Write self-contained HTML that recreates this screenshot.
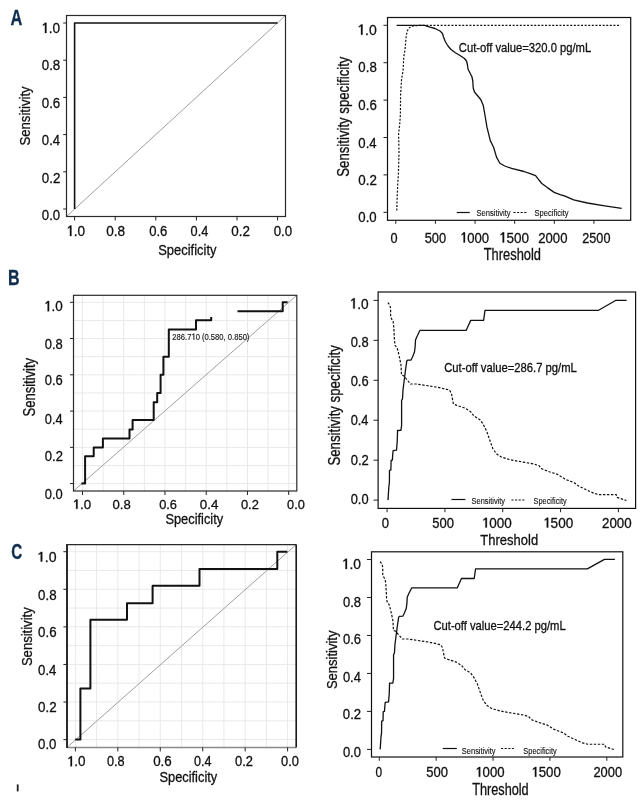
<!DOCTYPE html><html><head><meta charset="utf-8"><style>html,body{margin:0;padding:0;background:#fff;}svg{display:block;will-change:transform;}text{font-family:"Liberation Sans",sans-serif;}</style></head><body>
<svg width="642" height="801" viewBox="0 0 642 801">
<rect width="642" height="801" fill="#fff"/>
<g transform="translate(10.59,24.80) scale(0.7228,1)" fill="#0f2d4d" stroke="#0f2d4d" stroke-width="0.3"><text font-size="22.71" font-weight="bold">A</text></g>
<g transform="translate(8.06,285.00) scale(0.7073,1)" fill="#0f2d4d" stroke="#0f2d4d" stroke-width="0.3"><text font-size="22.71" font-weight="bold">B</text></g>
<g transform="translate(11.29,559.20) scale(0.6851,1)" fill="#0f2d4d" stroke="#0f2d4d" stroke-width="0.3"><text font-size="22.29" font-weight="bold">C</text></g>
<rect x="16.8" y="784.4" width="1.8" height="7" fill="#222"/>
<line x1="66.5" y1="216.5" x2="285.5" y2="15.5" stroke="#a0a0a0" stroke-width="1" />
<rect x="66.5" y="15.5" width="219.0" height="201.0" fill="none" stroke="#2a2a2a" stroke-width="1.2"/>
<line x1="63.2" y1="209.00" x2="66.5" y2="209.00" stroke="#222" stroke-width="1" />
<line x1="277.60" y1="216.5" x2="277.60" y2="220.5" stroke="#222" stroke-width="1" />
<line x1="63.2" y1="171.80" x2="66.5" y2="171.80" stroke="#222" stroke-width="1" />
<line x1="237.00" y1="216.5" x2="237.00" y2="220.5" stroke="#222" stroke-width="1" />
<line x1="63.2" y1="134.60" x2="66.5" y2="134.60" stroke="#222" stroke-width="1" />
<line x1="196.40" y1="216.5" x2="196.40" y2="220.5" stroke="#222" stroke-width="1" />
<line x1="63.2" y1="97.40" x2="66.5" y2="97.40" stroke="#222" stroke-width="1" />
<line x1="155.80" y1="216.5" x2="155.80" y2="220.5" stroke="#222" stroke-width="1" />
<line x1="63.2" y1="60.20" x2="66.5" y2="60.20" stroke="#222" stroke-width="1" />
<line x1="115.20" y1="216.5" x2="115.20" y2="220.5" stroke="#222" stroke-width="1" />
<line x1="63.2" y1="23.00" x2="66.5" y2="23.00" stroke="#222" stroke-width="1" />
<line x1="74.60" y1="216.5" x2="74.60" y2="220.5" stroke="#222" stroke-width="1" />
<g transform="translate(41.26,33.00) scale(0.9318,1)" fill="#111" stroke="#111" stroke-width="0.3"><path d="M3.95,-10.25 L5.56,-10.25 L5.56,0.00 L3.95,0.00 L3.95,-8.42 L1.76,-7.32 L1.76,-8.42 L3.66,-9.74Z"/><text x="8.14" font-size="14.64">.0</text></g>
<g transform="translate(41.77,70.40) scale(0.8880,1)" fill="#111" stroke="#111" stroke-width="0.3"><text font-size="15.00" font-weight="normal">0.8</text></g>
<g transform="translate(41.77,107.90) scale(0.8880,1)" fill="#111" stroke="#111" stroke-width="0.3"><text font-size="15.00" font-weight="normal">0.6</text></g>
<g transform="translate(41.87,145.30) scale(0.8933,1)" fill="#111" stroke="#111" stroke-width="0.3"><text font-size="14.71" font-weight="normal">0.4</text></g>
<g transform="translate(41.87,182.80) scale(0.9070,1)" fill="#111" stroke="#111" stroke-width="0.3"><text font-size="14.71" font-weight="normal">0.2</text></g>
<g transform="translate(41.87,220.10) scale(0.8923,1)" fill="#111" stroke="#111" stroke-width="0.3"><text font-size="14.79" font-weight="normal">0.0</text></g>
<g transform="translate(66.27,236.00) scale(0.9156,1)" fill="#111" stroke="#111" stroke-width="0.3"><path d="M4.01,-10.40 L5.65,-10.40 L5.65,0.00 L4.01,0.00 L4.01,-8.54 L1.78,-7.43 L1.78,-8.54 L3.71,-9.88Z"/><text x="8.26" font-size="14.86">.0</text></g>
<g transform="translate(106.16,236.00) scale(0.9146,1)" fill="#111" stroke="#111" stroke-width="0.3"><text font-size="14.86" font-weight="normal">0.8</text></g>
<g transform="translate(149.18,236.00) scale(0.8786,1)" fill="#111" stroke="#111" stroke-width="0.3"><text font-size="14.86" font-weight="normal">0.6</text></g>
<g transform="translate(190.59,236.00) scale(0.8566,1)" fill="#111" stroke="#111" stroke-width="0.3"><text font-size="14.86" font-weight="normal">0.4</text></g>
<g transform="translate(231.26,236.00) scale(0.9061,1)" fill="#111" stroke="#111" stroke-width="0.3"><text font-size="14.86" font-weight="normal">0.2</text></g>
<g transform="translate(273.67,236.00) scale(0.8957,1)" fill="#111" stroke="#111" stroke-width="0.3"><text font-size="14.86" font-weight="normal">0.0</text></g>
<polyline points="74.60,209.00 74.60,23.00 277.60,23.00" fill="none" stroke="#111" stroke-width="1.6" stroke-linejoin="round" />
<g transform="translate(30.30,145.59) rotate(-90) scale(0.8462,1)" fill="#111" stroke="#111" stroke-width="0.3"><text font-size="15.57" font-weight="normal">Sensitivity</text></g>
<g transform="translate(158.22,255.40) scale(0.8802,1)" fill="#111" stroke="#111" stroke-width="0.3"><text font-size="14.71" font-weight="normal">Specificity</text></g>
<rect x="387.5" y="17.5" width="243.20000000000005" height="202.8" fill="none" stroke="#111" stroke-width="1.2"/>
<line x1="383.5" y1="212.30" x2="387.5" y2="212.30" stroke="#222" stroke-width="1" />
<line x1="383.5" y1="174.90" x2="387.5" y2="174.90" stroke="#222" stroke-width="1" />
<line x1="383.5" y1="137.50" x2="387.5" y2="137.50" stroke="#222" stroke-width="1" />
<line x1="383.5" y1="100.10" x2="387.5" y2="100.10" stroke="#222" stroke-width="1" />
<line x1="383.5" y1="62.70" x2="387.5" y2="62.70" stroke="#222" stroke-width="1" />
<line x1="383.5" y1="25.30" x2="387.5" y2="25.30" stroke="#222" stroke-width="1" />
<line x1="395.80" y1="220.3" x2="395.80" y2="223.8" stroke="#222" stroke-width="1" />
<line x1="435.43" y1="220.3" x2="435.43" y2="223.8" stroke="#222" stroke-width="1" />
<line x1="475.05" y1="220.3" x2="475.05" y2="223.8" stroke="#222" stroke-width="1" />
<line x1="514.67" y1="220.3" x2="514.67" y2="223.8" stroke="#222" stroke-width="1" />
<line x1="554.30" y1="220.3" x2="554.30" y2="223.8" stroke="#222" stroke-width="1" />
<line x1="593.92" y1="220.3" x2="593.92" y2="223.8" stroke="#222" stroke-width="1" />
<g transform="translate(357.21,34.75) scale(0.9501,1)" fill="#111" stroke="#111" stroke-width="0.3"><path d="M3.99,-10.35 L5.62,-10.35 L5.62,0.00 L3.99,0.00 L3.99,-8.50 L1.77,-7.39 L1.77,-8.50 L3.70,-9.83Z"/><text x="8.22" font-size="14.79">.0</text></g>
<g transform="translate(358.37,72.40) scale(0.9001,1)" fill="#111" stroke="#111" stroke-width="0.3"><text font-size="14.71" font-weight="normal">0.8</text></g>
<g transform="translate(358.37,110.30) scale(0.9001,1)" fill="#111" stroke="#111" stroke-width="0.3"><text font-size="14.71" font-weight="normal">0.6</text></g>
<g transform="translate(358.37,147.60) scale(0.8933,1)" fill="#111" stroke="#111" stroke-width="0.3"><text font-size="14.71" font-weight="normal">0.4</text></g>
<g transform="translate(358.37,185.00) scale(0.9070,1)" fill="#111" stroke="#111" stroke-width="0.3"><text font-size="14.71" font-weight="normal">0.2</text></g>
<g transform="translate(358.37,222.30) scale(0.8967,1)" fill="#111" stroke="#111" stroke-width="0.3"><text font-size="14.71" font-weight="normal">0.0</text></g>
<g transform="translate(390.49,242.60) scale(0.8637,1)" fill="#111" stroke="#111" stroke-width="0.3"><text font-size="14.71" font-weight="normal">0</text></g>
<g transform="translate(424.68,242.60) scale(0.8762,1)" fill="#111" stroke="#111" stroke-width="0.3"><text font-size="14.71" font-weight="normal">500</text></g>
<g transform="translate(460.03,242.60) scale(0.8897,1)" fill="#111" stroke="#111" stroke-width="0.3"><path d="M3.97,-10.30 L5.59,-10.30 L5.59,0.00 L3.97,0.00 L3.97,-8.46 L1.77,-7.36 L1.77,-8.46 L3.68,-9.78Z"/><text x="8.18" font-size="14.71">000</text></g>
<g transform="translate(498.98,242.60) scale(0.9193,1)" fill="#111" stroke="#111" stroke-width="0.3"><path d="M3.97,-10.30 L5.59,-10.30 L5.59,0.00 L3.97,0.00 L3.97,-8.46 L1.77,-7.36 L1.77,-8.46 L3.68,-9.78Z"/><text x="8.18" font-size="14.71">500</text></g>
<g transform="translate(538.24,242.60) scale(0.8924,1)" fill="#111" stroke="#111" stroke-width="0.3"><text font-size="14.71" font-weight="normal">2000</text></g>
<g transform="translate(582.27,242.60) scale(0.8606,1)" fill="#111" stroke="#111" stroke-width="0.3"><text font-size="14.71" font-weight="normal">2500</text></g>
<g transform="translate(483.74,259.80) scale(0.8278,1)" fill="#111" stroke="#111" stroke-width="0.3"><text font-size="15.57" font-weight="normal">Threshold</text></g>
<g transform="translate(348.60,176.69) rotate(-90) scale(0.8316,1)" fill="#111" stroke="#111" stroke-width="0.3"><text font-size="15.86" font-weight="normal">Sensitivity specificity</text></g>
<g transform="translate(458.84,52.40) scale(0.8835,1)" fill="#111" stroke="#111" stroke-width="0.3"><text font-size="12.71" font-weight="normal">Cut-off value=320.0 pg/mL</text></g>
<polyline points="396.60,25.30 424.60,25.30 430.00,27.20 435.00,28.50 440.00,31.00 442.50,33.50 443.50,37.00 445.50,42.00 448.00,46.00 451.00,49.50 455.00,52.50 460.00,55.50 464.50,58.50 466.50,61.00 467.50,65.00 468.00,69.00 470.00,73.00 472.00,77.00 472.80,81.00 473.20,88.00 474.50,92.00 477.00,95.00 479.50,98.00 481.00,100.00 483.20,105.20 485.30,117.00 486.90,126.90 490.30,140.60 493.70,147.50 496.50,157.10 499.90,163.30 504.70,166.00 511.60,168.40 524.00,171.50 529.50,173.30 535.60,175.60 537.70,178.40 541.80,183.50 547.30,187.60 554.20,192.40 560.10,194.60 565.00,196.20 573.70,199.90 587.40,203.00 604.80,205.90 621.70,208.40" fill="none" stroke="#111" stroke-width="1.3" stroke-linejoin="round" />
<polyline points="396.80,210.60 397.00,200.60 397.70,184.50 398.40,173.80 399.00,152.40 398.60,133.70 399.70,124.40 400.40,115.00 400.60,95.00 401.50,80.00 403.10,70.00 403.80,56.30 405.00,50.00 406.30,35.00 408.10,28.80 411.30,26.30 416.30,25.60 422.50,25.30 620.80,25.30" fill="none" stroke="#111" stroke-width="1.2" stroke-linejoin="round" stroke-dasharray="2 1.6"/>
<line x1="456.7" y1="212.5" x2="469.7" y2="212.5" stroke="#111" stroke-width="1.2" />
<g transform="translate(476.56,216.40) scale(0.8146,1)" fill="#111" stroke="#111" stroke-width="0.12"><text font-size="9.29" font-weight="normal">Sensitivity</text></g>
<line x1="513.4" y1="212.5" x2="526.5" y2="212.5" stroke="#111" stroke-width="1.1" stroke-dasharray="2.2 1.4"/>
<g transform="translate(534.56,216.40) scale(0.8146,1)" fill="#111" stroke="#111" stroke-width="0.12"><text font-size="9.29" font-weight="normal">Specificity</text></g>
<line x1="288.70" y1="295.3" x2="288.70" y2="491.0" stroke="#e9e9e9" stroke-width="1" />
<line x1="73.5" y1="483.60" x2="296.8" y2="483.60" stroke="#e9e9e9" stroke-width="1" />
<line x1="268.08" y1="295.3" x2="268.08" y2="491.0" stroke="#e9e9e9" stroke-width="1" />
<line x1="73.5" y1="465.47" x2="296.8" y2="465.47" stroke="#e9e9e9" stroke-width="1" />
<line x1="247.46" y1="295.3" x2="247.46" y2="491.0" stroke="#e9e9e9" stroke-width="1" />
<line x1="73.5" y1="447.34" x2="296.8" y2="447.34" stroke="#e9e9e9" stroke-width="1" />
<line x1="226.84" y1="295.3" x2="226.84" y2="491.0" stroke="#e9e9e9" stroke-width="1" />
<line x1="73.5" y1="429.21" x2="296.8" y2="429.21" stroke="#e9e9e9" stroke-width="1" />
<line x1="206.22" y1="295.3" x2="206.22" y2="491.0" stroke="#e9e9e9" stroke-width="1" />
<line x1="73.5" y1="411.08" x2="296.8" y2="411.08" stroke="#e9e9e9" stroke-width="1" />
<line x1="185.60" y1="295.3" x2="185.60" y2="491.0" stroke="#e9e9e9" stroke-width="1" />
<line x1="73.5" y1="392.95" x2="296.8" y2="392.95" stroke="#e9e9e9" stroke-width="1" />
<line x1="164.98" y1="295.3" x2="164.98" y2="491.0" stroke="#e9e9e9" stroke-width="1" />
<line x1="73.5" y1="374.82" x2="296.8" y2="374.82" stroke="#e9e9e9" stroke-width="1" />
<line x1="144.36" y1="295.3" x2="144.36" y2="491.0" stroke="#e9e9e9" stroke-width="1" />
<line x1="73.5" y1="356.69" x2="296.8" y2="356.69" stroke="#e9e9e9" stroke-width="1" />
<line x1="123.74" y1="295.3" x2="123.74" y2="491.0" stroke="#e9e9e9" stroke-width="1" />
<line x1="73.5" y1="338.56" x2="296.8" y2="338.56" stroke="#e9e9e9" stroke-width="1" />
<line x1="103.12" y1="295.3" x2="103.12" y2="491.0" stroke="#e9e9e9" stroke-width="1" />
<line x1="73.5" y1="320.43" x2="296.8" y2="320.43" stroke="#e9e9e9" stroke-width="1" />
<line x1="82.50" y1="295.3" x2="82.50" y2="491.0" stroke="#e9e9e9" stroke-width="1" />
<line x1="73.5" y1="302.30" x2="296.8" y2="302.30" stroke="#e9e9e9" stroke-width="1" />
<line x1="73.5" y1="491.0" x2="296.8" y2="295.3" stroke="#a0a0a0" stroke-width="1" />
<rect x="73.5" y="295.3" width="223.3" height="195.7" fill="none" stroke="#2a2a2a" stroke-width="1.2"/>
<line x1="70.0" y1="483.60" x2="73.5" y2="483.60" stroke="#222" stroke-width="1" />
<line x1="288.70" y1="491.0" x2="288.70" y2="495.0" stroke="#222" stroke-width="1" />
<line x1="70.0" y1="447.34" x2="73.5" y2="447.34" stroke="#222" stroke-width="1" />
<line x1="247.46" y1="491.0" x2="247.46" y2="495.0" stroke="#222" stroke-width="1" />
<line x1="70.0" y1="411.08" x2="73.5" y2="411.08" stroke="#222" stroke-width="1" />
<line x1="206.22" y1="491.0" x2="206.22" y2="495.0" stroke="#222" stroke-width="1" />
<line x1="70.0" y1="374.82" x2="73.5" y2="374.82" stroke="#222" stroke-width="1" />
<line x1="164.98" y1="491.0" x2="164.98" y2="495.0" stroke="#222" stroke-width="1" />
<line x1="70.0" y1="338.56" x2="73.5" y2="338.56" stroke="#222" stroke-width="1" />
<line x1="123.74" y1="491.0" x2="123.74" y2="495.0" stroke="#222" stroke-width="1" />
<line x1="70.0" y1="302.30" x2="73.5" y2="302.30" stroke="#222" stroke-width="1" />
<line x1="82.50" y1="491.0" x2="82.50" y2="495.0" stroke="#222" stroke-width="1" />
<g transform="translate(43.98,311.30) scale(0.9162,1)" fill="#111" stroke="#111" stroke-width="0.3"><path d="M3.97,-10.30 L5.59,-10.30 L5.59,0.00 L3.97,0.00 L3.97,-8.46 L1.77,-7.36 L1.77,-8.46 L3.68,-9.79Z"/><text x="8.18" font-size="14.71">.0</text></g>
<g transform="translate(44.78,348.50) scale(0.8709,1)" fill="#111" stroke="#111" stroke-width="0.3"><text font-size="14.86" font-weight="normal">0.8</text></g>
<g transform="translate(44.78,385.40) scale(0.8709,1)" fill="#111" stroke="#111" stroke-width="0.3"><text font-size="14.86" font-weight="normal">0.6</text></g>
<g transform="translate(44.79,423.90) scale(0.8643,1)" fill="#111" stroke="#111" stroke-width="0.3"><text font-size="14.86" font-weight="normal">0.4</text></g>
<g transform="translate(44.78,461.00) scale(0.8776,1)" fill="#111" stroke="#111" stroke-width="0.3"><text font-size="14.86" font-weight="normal">0.2</text></g>
<g transform="translate(44.78,498.50) scale(0.8676,1)" fill="#111" stroke="#111" stroke-width="0.3"><text font-size="14.86" font-weight="normal">0.0</text></g>
<g transform="translate(72.50,508.80) scale(1.0165,1)" fill="#111" stroke="#111" stroke-width="0.3"><path d="M3.55,-9.20 L4.99,-9.20 L4.99,0.00 L3.55,0.00 L3.55,-7.56 L1.58,-6.57 L1.58,-7.56 L3.29,-8.74Z"/><text x="7.31" font-size="13.14">.0</text></g>
<g transform="translate(112.47,508.80) scale(0.9990,1)" fill="#111" stroke="#111" stroke-width="0.3"><text font-size="13.14" font-weight="normal">0.8</text></g>
<g transform="translate(159.19,508.80) scale(0.9758,1)" fill="#111" stroke="#111" stroke-width="0.3"><text font-size="13.14" font-weight="normal">0.6</text></g>
<g transform="translate(199.76,508.80) scale(1.0203,1)" fill="#111" stroke="#111" stroke-width="0.3"><text font-size="13.14" font-weight="normal">0.4</text></g>
<g transform="translate(240.88,508.80) scale(0.9833,1)" fill="#111" stroke="#111" stroke-width="0.3"><text font-size="13.14" font-weight="normal">0.2</text></g>
<g transform="translate(287.09,508.80) scale(0.9721,1)" fill="#111" stroke="#111" stroke-width="0.3"><text font-size="13.14" font-weight="normal">0.0</text></g>
<polyline points="82.40,483.60 85.10,483.60 85.10,456.30 93.70,456.30 93.70,447.50 102.90,447.50 102.90,438.40 129.50,438.40 129.50,429.50 132.60,429.50 132.60,420.10 153.70,420.10 153.70,402.30 157.20,402.30 157.20,393.10 160.60,393.10 160.60,374.80 163.40,374.80 163.40,356.70 168.80,356.70 168.80,329.40 196.00,329.40 196.00,320.20 211.20,320.20 211.20,318.00" fill="none" stroke="#111" stroke-width="2" stroke-linejoin="round" stroke-linecap="square"/>
<polyline points="237.50,311.20 282.70,311.20 282.70,302.20 287.60,302.20" fill="none" stroke="#111" stroke-width="2" stroke-linejoin="round" />
<g transform="translate(34.60,416.49) rotate(-90) scale(0.8137,1)" fill="#111" stroke="#111" stroke-width="0.3"><text font-size="16.00" font-weight="normal">Sensitivity</text></g>
<g transform="translate(165.42,523.80) scale(0.8726,1)" fill="#111" stroke="#111" stroke-width="0.3"><text font-size="14.71" font-weight="normal">Specificity</text></g>
<g transform="translate(172.32,339.80) scale(0.8341,1)" fill="#111" stroke="#111" stroke-width="0.12"><text x="0.00" font-size="9.14">286.7</text><path d="M25.35,-6.40 L26.35,-6.40 L26.35,0.00 L25.35,0.00 L25.35,-5.26 L23.98,-4.57 L23.98,-5.26 L25.17,-6.08Z"/><text x="27.96" font-size="9.14">0 (0.580, 0.850)</text></g>
<rect x="378.1" y="292.0" width="257.5" height="216.39999999999998" fill="none" stroke="#111" stroke-width="1.2"/>
<line x1="373.5" y1="500.10" x2="378.1" y2="500.10" stroke="#222" stroke-width="1" />
<line x1="373.5" y1="460.16" x2="378.1" y2="460.16" stroke="#222" stroke-width="1" />
<line x1="373.5" y1="420.22" x2="378.1" y2="420.22" stroke="#222" stroke-width="1" />
<line x1="373.5" y1="380.28" x2="378.1" y2="380.28" stroke="#222" stroke-width="1" />
<line x1="373.5" y1="340.34" x2="378.1" y2="340.34" stroke="#222" stroke-width="1" />
<line x1="373.5" y1="300.40" x2="378.1" y2="300.40" stroke="#222" stroke-width="1" />
<line x1="387.10" y1="508.4" x2="387.10" y2="512.1999999999999" stroke="#222" stroke-width="1" />
<line x1="444.93" y1="508.4" x2="444.93" y2="512.1999999999999" stroke="#222" stroke-width="1" />
<line x1="502.75" y1="508.4" x2="502.75" y2="512.1999999999999" stroke="#222" stroke-width="1" />
<line x1="560.58" y1="508.4" x2="560.58" y2="512.1999999999999" stroke="#222" stroke-width="1" />
<line x1="618.40" y1="508.4" x2="618.40" y2="512.1999999999999" stroke="#222" stroke-width="1" />
<g transform="translate(349.56,308.50) scale(0.9345,1)" fill="#111" stroke="#111" stroke-width="0.3"><path d="M3.95,-10.25 L5.56,-10.25 L5.56,0.00 L3.95,0.00 L3.95,-8.42 L1.76,-7.32 L1.76,-8.42 L3.66,-9.74Z"/><text x="8.14" font-size="14.64">.0</text></g>
<g transform="translate(350.68,347.40) scale(0.8897,1)" fill="#111" stroke="#111" stroke-width="0.3"><text font-size="14.50" font-weight="normal">0.8</text></g>
<g transform="translate(350.68,386.10) scale(0.8941,1)" fill="#111" stroke="#111" stroke-width="0.3"><text font-size="14.43" font-weight="normal">0.6</text></g>
<g transform="translate(350.69,425.20) scale(0.8786,1)" fill="#111" stroke="#111" stroke-width="0.3"><text font-size="14.57" font-weight="normal">0.4</text></g>
<g transform="translate(350.68,465.10) scale(0.9010,1)" fill="#111" stroke="#111" stroke-width="0.3"><text font-size="14.43" font-weight="normal">0.2</text></g>
<g transform="translate(350.69,503.60) scale(0.8907,1)" fill="#111" stroke="#111" stroke-width="0.3"><text font-size="14.43" font-weight="normal">0.0</text></g>
<g transform="translate(381.68,527.60) scale(0.9375,1)" fill="#111" stroke="#111" stroke-width="0.3"><text font-size="14.00" font-weight="normal">0</text></g>
<g transform="translate(432.28,527.60) scale(0.9299,1)" fill="#111" stroke="#111" stroke-width="0.3"><text font-size="14.00" font-weight="normal">500</text></g>
<g transform="translate(481.78,527.60) scale(0.9627,1)" fill="#111" stroke="#111" stroke-width="0.3"><path d="M3.78,-9.80 L5.32,-9.80 L5.32,0.00 L3.78,0.00 L3.78,-8.05 L1.68,-7.00 L1.68,-8.05 L3.50,-9.31Z"/><text x="7.79" font-size="14.00">000</text></g>
<g transform="translate(543.07,527.60) scale(0.9696,1)" fill="#111" stroke="#111" stroke-width="0.3"><path d="M3.78,-9.80 L5.32,-9.80 L5.32,0.00 L3.78,0.00 L3.78,-8.05 L1.68,-7.00 L1.68,-8.05 L3.50,-9.31Z"/><text x="7.79" font-size="14.00">500</text></g>
<g transform="translate(602.03,527.60) scale(0.9513,1)" fill="#111" stroke="#111" stroke-width="0.3"><text font-size="14.00" font-weight="normal">2000</text></g>
<g transform="translate(480.34,544.70) scale(0.8588,1)" fill="#111" stroke="#111" stroke-width="0.3"><text font-size="15.14" font-weight="normal">Threshold</text></g>
<g transform="translate(340.20,465.60) rotate(-90) scale(0.8344,1)" fill="#111" stroke="#111" stroke-width="0.3"><text font-size="15.86" font-weight="normal">Sensitivity specificity</text></g>
<g transform="translate(444.14,371.90) scale(0.9390,1)" fill="#111" stroke="#111" stroke-width="0.3"><text font-size="12.00" font-weight="normal">Cut-off value=286.7 pg/mL</text></g>
<polyline points="388.00,500.10 388.80,487.50 389.40,482.50 389.50,470.30 390.90,469.90 391.10,460.30 392.40,460.00 392.70,455.00 393.10,450.60 396.50,450.20 396.80,446.20 397.20,441.90 397.50,432.50 397.50,430.50 400.90,430.30 401.10,428.80 401.60,425.60 401.60,400.30 402.50,398.80 403.00,390.00 404.50,378.00 405.50,370.00 406.80,361.00 407.50,360.20 411.00,360.00 412.50,357.00 414.50,352.00 415.20,346.00 415.50,340.00 417.00,336.50 420.00,330.30 466.30,330.30 470.60,320.40 483.60,320.40 485.00,310.30 598.60,310.30 616.00,300.30 626.60,300.30" fill="none" stroke="#111" stroke-width="1.3" stroke-linejoin="round" />
<polyline points="387.80,302.60 389.90,305.10 390.60,308.60 390.60,316.30 391.70,319.10 393.10,321.20 393.80,327.50 394.50,340.80 395.20,345.70 397.00,347.50 398.50,353.00 400.00,360.00 401.00,365.00 401.50,375.00 404.00,376.00 406.00,378.50 408.00,381.00 410.50,384.00 416.00,384.00 426.00,385.50 437.70,387.30 449.40,390.00 451.40,393.20 452.80,400.80 453.40,404.00 456.90,405.40 465.40,408.30 470.60,411.70 474.00,416.00 480.00,419.80 483.40,424.60 486.80,431.40 490.30,441.70 492.80,448.50 496.30,453.70 501.40,457.10 510.00,459.70 522.00,461.90 534.00,464.00 539.10,465.70 541.60,468.70 549.30,471.80 557.90,474.50 564.90,479.10 574.30,482.70 578.90,486.20 586.70,490.00 593.70,493.20 599.20,494.70 616.30,494.70 617.10,497.40 626.40,500.50" fill="none" stroke="#111" stroke-width="1.2" stroke-linejoin="round" stroke-dasharray="2.4 1.6"/>
<line x1="451.5" y1="499.5" x2="465.4" y2="499.5" stroke="#111" stroke-width="1.2" />
<g transform="translate(471.56,503.60) scale(0.8280,1)" fill="#111" stroke="#111" stroke-width="0.12"><text font-size="9.00" font-weight="normal">Sensitivity</text></g>
<line x1="511.4" y1="500.0" x2="525.1" y2="500.0" stroke="#111" stroke-width="1.1" stroke-dasharray="2.2 1.4"/>
<g transform="translate(533.57,503.70) scale(0.8181,1)" fill="#111" stroke="#111" stroke-width="0.12"><text font-size="9.00" font-weight="normal">Specificity</text></g>
<line x1="287.60" y1="544.55" x2="287.60" y2="747.4" stroke="#e9e9e9" stroke-width="1" />
<line x1="67.0" y1="739.60" x2="296.2" y2="739.60" stroke="#e9e9e9" stroke-width="1" />
<line x1="266.38" y1="544.55" x2="266.38" y2="747.4" stroke="#e9e9e9" stroke-width="1" />
<line x1="67.0" y1="720.81" x2="296.2" y2="720.81" stroke="#e9e9e9" stroke-width="1" />
<line x1="245.16" y1="544.55" x2="245.16" y2="747.4" stroke="#e9e9e9" stroke-width="1" />
<line x1="67.0" y1="702.02" x2="296.2" y2="702.02" stroke="#e9e9e9" stroke-width="1" />
<line x1="223.94" y1="544.55" x2="223.94" y2="747.4" stroke="#e9e9e9" stroke-width="1" />
<line x1="67.0" y1="683.23" x2="296.2" y2="683.23" stroke="#e9e9e9" stroke-width="1" />
<line x1="202.72" y1="544.55" x2="202.72" y2="747.4" stroke="#e9e9e9" stroke-width="1" />
<line x1="67.0" y1="664.44" x2="296.2" y2="664.44" stroke="#e9e9e9" stroke-width="1" />
<line x1="181.50" y1="544.55" x2="181.50" y2="747.4" stroke="#e9e9e9" stroke-width="1" />
<line x1="67.0" y1="645.65" x2="296.2" y2="645.65" stroke="#e9e9e9" stroke-width="1" />
<line x1="160.28" y1="544.55" x2="160.28" y2="747.4" stroke="#e9e9e9" stroke-width="1" />
<line x1="67.0" y1="626.86" x2="296.2" y2="626.86" stroke="#e9e9e9" stroke-width="1" />
<line x1="139.06" y1="544.55" x2="139.06" y2="747.4" stroke="#e9e9e9" stroke-width="1" />
<line x1="67.0" y1="608.07" x2="296.2" y2="608.07" stroke="#e9e9e9" stroke-width="1" />
<line x1="117.84" y1="544.55" x2="117.84" y2="747.4" stroke="#e9e9e9" stroke-width="1" />
<line x1="67.0" y1="589.28" x2="296.2" y2="589.28" stroke="#e9e9e9" stroke-width="1" />
<line x1="96.62" y1="544.55" x2="96.62" y2="747.4" stroke="#e9e9e9" stroke-width="1" />
<line x1="67.0" y1="570.49" x2="296.2" y2="570.49" stroke="#e9e9e9" stroke-width="1" />
<line x1="75.40" y1="544.55" x2="75.40" y2="747.4" stroke="#e9e9e9" stroke-width="1" />
<line x1="67.0" y1="551.70" x2="296.2" y2="551.70" stroke="#e9e9e9" stroke-width="1" />
<line x1="67.0" y1="747.4" x2="296.2" y2="544.55" stroke="#a0a0a0" stroke-width="1" />
<line x1="67.0" y1="747.4" x2="296.2" y2="747.4" stroke="#8a8a8a" stroke-width="1.5" />
<line x1="67.0" y1="544.55" x2="296.2" y2="544.55" stroke="#2a2a2a" stroke-width="1.3" />
<line x1="296.2" y1="544.55" x2="296.2" y2="747.4" stroke="#1a1a1a" stroke-width="1.6" />
<line x1="67.0" y1="543.9499999999999" x2="67.0" y2="748.1" stroke="#2a2a2a" stroke-width="2" />
<line x1="63.4" y1="739.60" x2="67.0" y2="739.60" stroke="#222" stroke-width="1" />
<line x1="287.60" y1="747.4" x2="287.60" y2="751.4" stroke="#222" stroke-width="1" />
<line x1="63.4" y1="702.02" x2="67.0" y2="702.02" stroke="#222" stroke-width="1" />
<line x1="245.16" y1="747.4" x2="245.16" y2="751.4" stroke="#222" stroke-width="1" />
<line x1="63.4" y1="664.44" x2="67.0" y2="664.44" stroke="#222" stroke-width="1" />
<line x1="202.72" y1="747.4" x2="202.72" y2="751.4" stroke="#222" stroke-width="1" />
<line x1="63.4" y1="626.86" x2="67.0" y2="626.86" stroke="#222" stroke-width="1" />
<line x1="160.28" y1="747.4" x2="160.28" y2="751.4" stroke="#222" stroke-width="1" />
<line x1="63.4" y1="589.28" x2="67.0" y2="589.28" stroke="#222" stroke-width="1" />
<line x1="117.84" y1="747.4" x2="117.84" y2="751.4" stroke="#222" stroke-width="1" />
<line x1="63.4" y1="551.70" x2="67.0" y2="551.70" stroke="#222" stroke-width="1" />
<line x1="75.40" y1="747.4" x2="75.40" y2="751.4" stroke="#222" stroke-width="1" />
<g transform="translate(36.91,561.60) scale(1.0167,1)" fill="#111" stroke="#111" stroke-width="0.3"><path d="M3.74,-9.70 L5.27,-9.70 L5.27,0.00 L3.74,0.00 L3.74,-7.97 L1.66,-6.93 L1.66,-7.97 L3.46,-9.22Z"/><text x="7.71" font-size="13.86">.0</text></g>
<g transform="translate(38.07,599.80) scale(0.9487,1)" fill="#111" stroke="#111" stroke-width="0.3"><text font-size="14.00" font-weight="normal">0.8</text></g>
<g transform="translate(38.07,637.10) scale(0.9585,1)" fill="#111" stroke="#111" stroke-width="0.3"><text font-size="13.86" font-weight="normal">0.6</text></g>
<g transform="translate(38.07,674.60) scale(0.9320,1)" fill="#111" stroke="#111" stroke-width="0.3"><text font-size="14.14" font-weight="normal">0.4</text></g>
<g transform="translate(38.06,712.30) scale(0.9560,1)" fill="#111" stroke="#111" stroke-width="0.3"><text font-size="14.00" font-weight="normal">0.2</text></g>
<g transform="translate(38.07,749.00) scale(0.9451,1)" fill="#111" stroke="#111" stroke-width="0.3"><text font-size="14.00" font-weight="normal">0.0</text></g>
<g transform="translate(66.89,766.30) scale(0.9409,1)" fill="#111" stroke="#111" stroke-width="0.3"><path d="M3.86,-10.00 L5.43,-10.00 L5.43,0.00 L3.86,0.00 L3.86,-8.21 L1.71,-7.14 L1.71,-8.21 L3.57,-9.50Z"/><text x="7.95" font-size="14.29">.0</text></g>
<g transform="translate(106.89,766.30) scale(0.8870,1)" fill="#111" stroke="#111" stroke-width="0.3"><text font-size="14.29" font-weight="normal">0.8</text></g>
<g transform="translate(153.17,766.30) scale(0.9351,1)" fill="#111" stroke="#111" stroke-width="0.3"><text font-size="14.29" font-weight="normal">0.6</text></g>
<g transform="translate(194.10,766.30) scale(0.8803,1)" fill="#111" stroke="#111" stroke-width="0.3"><text font-size="14.29" font-weight="normal">0.4</text></g>
<g transform="translate(235.08,766.30) scale(0.9046,1)" fill="#111" stroke="#111" stroke-width="0.3"><text font-size="14.29" font-weight="normal">0.2</text></g>
<g transform="translate(281.09,766.30) scale(0.8996,1)" fill="#111" stroke="#111" stroke-width="0.3"><text font-size="14.29" font-weight="normal">0.0</text></g>
<polyline points="75.20,739.50 80.40,739.50 80.40,688.40 90.40,688.40 90.40,619.70 127.00,619.70 127.00,603.20 152.60,603.20 152.60,585.80 199.50,585.80 199.50,568.90 277.30,568.90 277.30,551.80 287.40,551.80" fill="none" stroke="#111" stroke-width="2" stroke-linejoin="round" />
<g transform="translate(31.80,666.09) rotate(-90) scale(0.8642,1)" fill="#111" stroke="#111" stroke-width="0.3"><text font-size="15.14" font-weight="normal">Sensitivity</text></g>
<g transform="translate(159.42,782.20) scale(0.8741,1)" fill="#111" stroke="#111" stroke-width="0.3"><text font-size="14.71" font-weight="normal">Specificity</text></g>
<rect x="371.5" y="551.8" width="251.29999999999995" height="205.20000000000005" fill="none" stroke="#111" stroke-width="1.2"/>
<line x1="367.0" y1="749.40" x2="371.5" y2="749.40" stroke="#222" stroke-width="1" />
<line x1="367.0" y1="711.42" x2="371.5" y2="711.42" stroke="#222" stroke-width="1" />
<line x1="367.0" y1="673.44" x2="371.5" y2="673.44" stroke="#222" stroke-width="1" />
<line x1="367.0" y1="635.46" x2="371.5" y2="635.46" stroke="#222" stroke-width="1" />
<line x1="367.0" y1="597.48" x2="371.5" y2="597.48" stroke="#222" stroke-width="1" />
<line x1="367.0" y1="559.50" x2="371.5" y2="559.50" stroke="#222" stroke-width="1" />
<line x1="379.30" y1="757.0" x2="379.30" y2="760.8" stroke="#222" stroke-width="1" />
<line x1="436.18" y1="757.0" x2="436.18" y2="760.8" stroke="#222" stroke-width="1" />
<line x1="493.05" y1="757.0" x2="493.05" y2="760.8" stroke="#222" stroke-width="1" />
<line x1="549.92" y1="757.0" x2="549.92" y2="760.8" stroke="#222" stroke-width="1" />
<line x1="606.80" y1="757.0" x2="606.80" y2="760.8" stroke="#222" stroke-width="1" />
<g transform="translate(341.74,569.00) scale(0.9456,1)" fill="#111" stroke="#111" stroke-width="0.3"><path d="M3.95,-10.25 L5.56,-10.25 L5.56,0.00 L3.95,0.00 L3.95,-8.42 L1.76,-7.32 L1.76,-8.42 L3.66,-9.74Z"/><text x="8.14" font-size="14.64">.0</text></g>
<g transform="translate(342.88,606.50) scale(0.8915,1)" fill="#111" stroke="#111" stroke-width="0.3"><text font-size="14.64" font-weight="normal">0.8</text></g>
<g transform="translate(342.88,644.00) scale(0.8915,1)" fill="#111" stroke="#111" stroke-width="0.3"><text font-size="14.64" font-weight="normal">0.6</text></g>
<g transform="translate(342.88,681.50) scale(0.8847,1)" fill="#111" stroke="#111" stroke-width="0.3"><text font-size="14.64" font-weight="normal">0.4</text></g>
<g transform="translate(342.87,719.00) scale(0.9208,1)" fill="#111" stroke="#111" stroke-width="0.3"><text font-size="14.29" font-weight="normal">0.2</text></g>
<g transform="translate(342.88,756.90) scale(0.9103,1)" fill="#111" stroke="#111" stroke-width="0.3"><text font-size="14.29" font-weight="normal">0.0</text></g>
<g transform="translate(375.42,776.80) scale(0.8482,1)" fill="#111" stroke="#111" stroke-width="0.3"><text font-size="14.00" font-weight="normal">0</text></g>
<g transform="translate(426.18,776.80) scale(0.9299,1)" fill="#111" stroke="#111" stroke-width="0.3"><text font-size="14.00" font-weight="normal">500</text></g>
<g transform="translate(475.22,776.80) scale(0.9420,1)" fill="#111" stroke="#111" stroke-width="0.3"><path d="M3.78,-9.80 L5.32,-9.80 L5.32,0.00 L3.78,0.00 L3.78,-8.05 L1.68,-7.00 L1.68,-8.05 L3.50,-9.31Z"/><text x="7.79" font-size="14.00">000</text></g>
<g transform="translate(531.31,776.80) scale(0.9455,1)" fill="#111" stroke="#111" stroke-width="0.3"><path d="M3.78,-9.80 L5.32,-9.80 L5.32,0.00 L3.78,0.00 L3.78,-8.05 L1.68,-7.00 L1.68,-8.05 L3.50,-9.31Z"/><text x="7.79" font-size="14.00">500</text></g>
<g transform="translate(593.46,776.80) scale(0.9212,1)" fill="#111" stroke="#111" stroke-width="0.3"><text font-size="14.00" font-weight="normal">2000</text></g>
<g transform="translate(472.25,794.70) scale(0.8086,1)" fill="#111" stroke="#111" stroke-width="0.3"><text font-size="15.71" font-weight="normal">Threshold</text></g>
<g transform="translate(337.00,689.09) rotate(-90) scale(0.8438,1)" fill="#111" stroke="#111" stroke-width="0.3"><text font-size="15.43" font-weight="normal">Sensitivity</text></g>
<g transform="translate(433.44,629.80) scale(0.9032,1)" fill="#111" stroke="#111" stroke-width="0.3"><text font-size="12.43" font-weight="normal">Cut-off value=244.2 pg/mL</text></g>
<polyline points="380.19,749.40 380.97,737.42 381.56,732.66 381.66,721.06 383.04,720.68 383.23,711.55 384.51,711.27 384.81,706.51 385.20,702.33 388.55,701.95 388.84,698.15 389.23,694.06 389.53,685.12 389.53,683.22 392.87,683.03 393.07,681.60 393.56,678.56 393.56,654.50 394.45,653.07 394.94,644.70 396.41,633.29 397.40,625.68 398.68,617.13 399.36,616.37 402.81,616.18 404.28,613.32 406.25,608.57 406.94,602.86 407.23,597.16 408.71,593.83 411.66,587.93 457.20,587.93 461.43,578.52 474.21,578.52 475.59,568.91 587.33,568.91 604.44,559.40 614.87,559.40" fill="none" stroke="#111" stroke-width="1.3" stroke-linejoin="round" />
<polyline points="379.99,561.59 382.05,563.97 382.74,567.30 382.74,574.62 383.82,577.28 385.20,579.28 385.89,585.27 386.58,597.92 387.27,602.58 389.04,604.29 390.51,609.52 391.99,616.18 392.97,620.93 393.46,630.44 395.92,631.39 397.89,633.77 399.86,636.14 402.32,639.00 407.73,639.00 417.56,640.42 429.07,642.14 440.58,644.70 442.54,647.75 443.92,654.97 444.51,658.02 447.95,659.35 456.31,662.10 461.43,665.34 464.77,669.43 470.67,673.04 474.02,677.61 477.36,684.07 480.80,693.87 483.26,700.33 486.71,705.28 491.72,708.51 500.18,710.98 511.98,713.07 523.79,715.07 528.80,716.69 531.26,719.54 538.84,722.49 547.29,725.06 554.18,729.43 563.42,732.85 567.95,736.18 575.62,739.80 582.51,742.84 587.92,744.26 604.73,744.26 605.52,746.83 614.67,749.78" fill="none" stroke="#111" stroke-width="1.2" stroke-linejoin="round" stroke-dasharray="2.4 1.6"/>
<line x1="442.7" y1="748.5" x2="456.8" y2="748.5" stroke="#111" stroke-width="1.2" />
<g transform="translate(461.86,754.40) scale(0.9021,1)" fill="#111" stroke="#111" stroke-width="0.12"><text font-size="8.29" font-weight="normal">Sensitivity</text></g>
<line x1="501.0" y1="748.5" x2="515.0" y2="748.5" stroke="#111" stroke-width="1.1" stroke-dasharray="2.2 1.4"/>
<g transform="translate(523.37,754.20) scale(0.8363,1)" fill="#111" stroke="#111" stroke-width="0.12"><text font-size="8.86" font-weight="normal">Specificity</text></g>
</svg></body></html>
